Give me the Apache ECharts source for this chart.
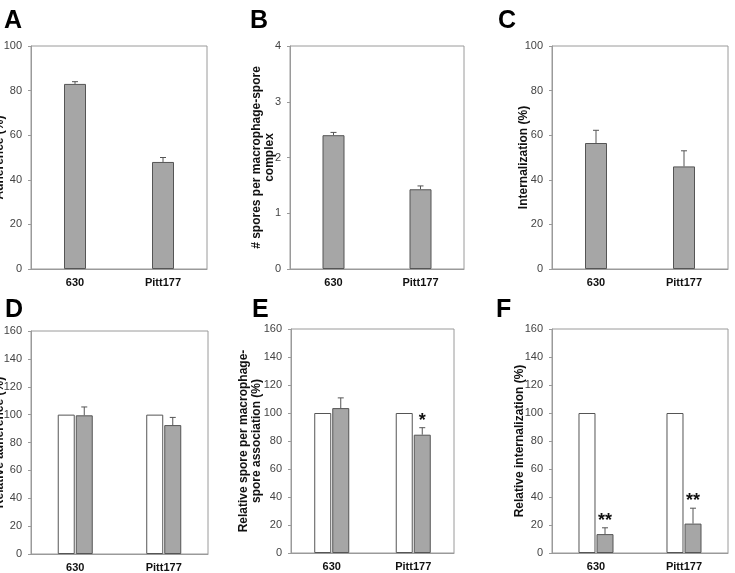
<!DOCTYPE html>
<html>
<head>
<meta charset="utf-8">
<script src="https://cdn.jsdelivr.net/npm/echarts@6/dist/echarts.min.js"></script>
<style>
  html, body { margin: 0; padding: 0; background: #fff; }
  #chart { width: 735px; height: 573px; }
</style>
</head>
<body>
<div id="chart"></div>
<script>
// --- data ---
const categories = ['630', 'Pitt177'];

// top row (A, B, C): one bar per strain
const adherence = [83, 48];
const adherenceErr = [1, 2];
const sporesPerComplex = [2.4, 1.43];
const sporesPerComplexErr = [0.05, 0.06];
const internalization = [56.5, 46];
const internalizationErr = [5.7, 7];

// bottom row (D, E, F): control (white) vs treated (grey), relative %
const relControl = [100, 100];
const relAdherence = [99.5, 92.5];
const relAdherenceErr = [6, 5.5];
const relSpore = [103.5, 84.5];
const relSporeErr = [7.3, 5];
const relInternalization = [13.5, 21];
const relInternalizationErr = [4.5, 11];
const sigSpore = ['', '*'];
const sigInternalization = ['**', '**'];

// y axes: max and step per panel
const yMax = [100, 4, 100, 160, 160, 160];
const yStep = [20, 1, 20, 20, 20, 20];
const panelLetters = ['A', 'B', 'C', 'D', 'E', 'F'];
const yNames = [
  'Adherence (%)',
  '# spores per macrophage-spore\ncomplex',
  'Internalization (%)',
  'Relative adherence (%)',
  'Relative spore per macrophage-\nspore association (%)',
  'Relative internalization (%)'
];

const FONT = '"Liberation Sans", Arial, sans-serif';
const GREY = '#a6a6a6';
const EDGE = '#555555';
const FRAME = '#9a9a9a';

// grid boxes, in px
const grids = [
  { left: 31, top: 46, width: 176, height: 223 },
  { left: 290, top: 46, width: 174, height: 223 },
  { left: 552, top: 46, width: 176, height: 223 },
  { left: 31, top: 331, width: 177, height: 223 },
  { left: 291, top: 329, width: 163, height: 224 },
  { left: 552, top: 329, width: 176, height: 224 }
];
const nameGaps = [25, 14, 22, 25, 28, 26];
const letterPos = [[4, 9], [250, 9], [498, 9], [5, 298], [252, 298], [496, 298]];

// error bar (upper whisker only) + optional significance stars
function errorSeries(idx, values, errs, offset, marks) {
  return {
    type: 'custom',
    xAxisIndex: idx,
    yAxisIndex: idx,
    z: 5,
    data: values.map((v, i) => [i, v, errs[i]]),
    encode: { x: 0, y: 1 },
    renderItem: function (params, api) {
      const base = api.coord([api.value(0), api.value(1)]);
      const top = api.coord([api.value(0), api.value(1) + api.value(2)]);
      const x = base[0] + offset;
      const st = { stroke: EDGE, lineWidth: 1 };
      const children = [
        { type: 'line', shape: { x1: x, y1: base[1], x2: x, y2: top[1] }, style: st },
        { type: 'line', shape: { x1: x - 3, y1: top[1], x2: x + 3, y2: top[1] }, style: st }
      ];
      const m = marks ? marks[params.dataIndex] : '';
      if (m) {
        children.push({
          type: 'text',
          style: {
            text: m, x: x, y: top[1] + 2,
            align: 'center', verticalAlign: 'bottom',
            font: 'bold 18px ' + FONT, fill: '#111'
          }
        });
      }
      return { type: 'group', children: children };
    }
  };
}

function barSeries(idx, values, color, width) {
  return {
    type: 'bar',
    xAxisIndex: idx,
    yAxisIndex: idx,
    data: values,
    barWidth: width,
    barGap: '6%',
    itemStyle: { color: color, borderColor: EDGE, borderWidth: 1 },
    silent: true
  };
}

const chart = echarts.init(document.getElementById('chart'));

const option = {
  backgroundColor: '#fff',
  animation: false,
  title: panelLetters.map((t, i) => ({
    text: t,
    left: letterPos[i][0],
    top: letterPos[i][1],
    padding: 0,
    textStyle: { fontFamily: FONT, fontSize: 25, fontWeight: 'bold', color: '#000' }
  })),
  grid: grids.map(g => Object.assign({
    show: true, borderColor: FRAME, borderWidth: 1, backgroundColor: 'transparent',
    containLabel: false, outerBoundsMode: 'none'
  }, g)),
  xAxis: grids.map((g, i) => ({
    type: 'category',
    gridIndex: i,
    data: categories,
    axisLine: { lineStyle: { color: FRAME } },
    axisTick: { show: false },
    axisLabel: { margin: 8, fontFamily: FONT, fontSize: 11, fontWeight: 'bold', color: '#111' }
  })),
  yAxis: grids.map((g, i) => ({
    type: 'value',
    gridIndex: i,
    min: 0,
    max: yMax[i],
    interval: yStep[i],
    name: yNames[i],
    nameLocation: 'middle',
    nameRotate: 90,
    nameGap: nameGaps[i],
    nameMoveOverlap: false,
    nameTextStyle: { fontFamily: FONT, fontSize: 12, fontWeight: 'bold', color: '#111', lineHeight: 13 },
    axisLine: { show: true, lineStyle: { color: FRAME } },
    axisTick: { show: true, length: 3, lineStyle: { color: FRAME } },
    splitLine: { show: false },
    axisLabel: { margin: 9, fontFamily: FONT, fontSize: 11, color: '#444' }
  })),
  series: [
    barSeries(0, adherence, GREY, 22),
    errorSeries(0, adherence, adherenceErr, 0),
    barSeries(1, sporesPerComplex, GREY, 22),
    errorSeries(1, sporesPerComplex, sporesPerComplexErr, 0),
    barSeries(2, internalization, GREY, 22),
    errorSeries(2, internalization, internalizationErr, 0),

    barSeries(3, relControl, '#fff', 17),
    barSeries(3, relAdherence, GREY, 17),
    errorSeries(3, relAdherence, relAdherenceErr, 9),
    barSeries(4, relControl, '#fff', 17),
    barSeries(4, relSpore, GREY, 17),
    errorSeries(4, relSpore, relSporeErr, 9, sigSpore),
    barSeries(5, relControl, '#fff', 17),
    barSeries(5, relInternalization, GREY, 17),
    errorSeries(5, relInternalization, relInternalizationErr, 9, sigInternalization)
  ]
};

chart.setOption(option);
</script>
</body>
</html>
